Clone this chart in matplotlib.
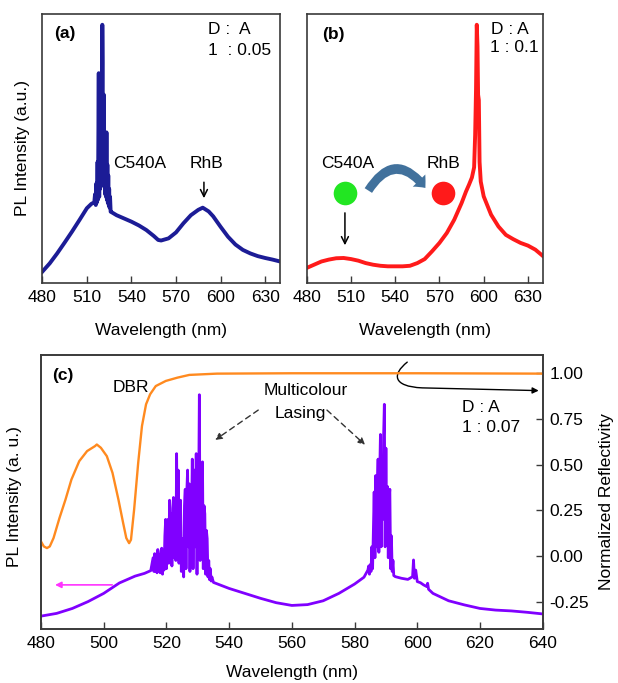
import matplotlib
matplotlib.use('Agg')
import matplotlib.pyplot as plt
from matplotlib.patches import FancyArrowPatch
from matplotlib.path import Path

plt.rcParams['font.family'] = ['Liberation Sans', 'DejaVu Sans']
plt.rcParams['font.size'] = 12.5
plt.rcParams['path.simplify'] = False
FS = 12.5

# ---------------- data ----------------
# Panel (a)  D:A = 1:0.05  (PL intensity, arbitrary units)
wl_a = [480, 485, 490, 495, 500, 505, 510, 513, 515,
        515.5, 516.0, 516.4, 516.8, 517.2, 517.5, 517.8, 518.0, 518.3, 518.6,
        518.9, 519.2, 519.5, 519.8, 520.1, 520.4, 520.6, 520.8, 521.1, 521.4,
        521.7, 522.0, 522.3, 522.6, 522.9, 523.2, 523.5, 523.8, 524.1, 524.4,
        524.7, 525.0, 525.3, 525.6, 526.0,
        527, 530, 535, 540, 545, 550, 555, 558, 560, 565, 570, 575, 580, 585,
        588, 592, 595, 600, 605, 610, 615, 620, 625, 630, 635, 640]
pl_a = [0.042, 0.073, 0.110, 0.150, 0.191, 0.234, 0.278, 0.294, 0.300,
        0.33, 0.29, 0.37, 0.30, 0.45, 0.31, 0.60, 0.78, 0.32, 0.58,
        0.35, 0.68, 0.36, 0.55, 0.40, 0.96, 0.82, 0.38, 0.62, 0.70,
        0.36, 0.52, 0.33, 0.48, 0.32, 0.56, 0.31, 0.44, 0.30, 0.40,
        0.29, 0.35, 0.28, 0.32, 0.265,
        0.262, 0.252, 0.240, 0.228, 0.214, 0.197, 0.175, 0.160, 0.158, 0.166,
        0.188, 0.222, 0.252, 0.272, 0.280, 0.266, 0.248, 0.209, 0.172, 0.143,
        0.123, 0.110, 0.100, 0.093, 0.087, 0.080]

# Panel (b)  D:A = 1:0.1
wl_b = [480, 485, 490, 495, 500, 505, 510, 515, 520, 525, 530, 535, 540, 545,
        550, 555, 560, 565, 570, 575, 580, 585, 588, 590, 592, 593.5, 594.2,
        594.8, 595.3, 595.8, 596.2, 596.7, 597.2, 598, 600, 605, 610, 615, 620,
        625, 630, 635, 640]
pl_b = [0.056, 0.068, 0.080, 0.087, 0.092, 0.093, 0.089, 0.083, 0.074, 0.068,
        0.064, 0.062, 0.062, 0.062, 0.064, 0.074, 0.089, 0.118, 0.149, 0.186,
        0.235, 0.297, 0.340, 0.365, 0.392, 0.43, 0.55, 0.72, 0.96, 0.88, 0.70,
        0.68, 0.45, 0.377, 0.322, 0.254, 0.210, 0.179, 0.163, 0.149, 0.139,
        0.124, 0.101]

# Panel (c)  D:A = 1:0.07, PL (left axis, a.u.)
wl_c = [480, 485, 490, 495, 500, 505, 510, 513, 515,
        515.75, 516.00, 516.25, 516.50, 516.75, 517.00, 517.25, 517.50, 517.75,
        518.00, 518.25, 518.50, 518.75, 519.00, 519.25, 519.50, 519.75, 520.00,
        520.25, 520.50, 520.75, 521.00, 521.25, 521.50, 521.75, 522.00, 522.25,
        522.50, 522.75, 523.00, 523.25, 523.50, 523.75, 524.00, 524.25, 524.50,
        524.75, 525.00, 525.25, 525.50, 525.75, 526.00, 526.25, 526.50, 526.75,
        527.00, 527.25, 527.50, 527.75, 528.00, 528.25, 528.50, 528.75, 529.00,
        529.25, 529.50, 529.75, 530.00, 530.25, 530.50, 530.75, 531.00, 531.25,
        531.50, 531.75, 532.00, 532.25, 532.50, 532.75, 533.00, 533.25, 533.50,
        533.75, 534.00, 534.25, 534.50, 535,
        540, 545, 550, 555, 560, 565, 570, 575, 580, 583,
        584.25, 584.50, 584.75, 585.00, 585.25, 585.50, 585.75, 586.00, 586.25,
        586.50, 586.75, 587.00, 587.25, 587.50, 587.75, 588.00, 588.25, 588.50,
        588.75, 589.00, 589.25, 589.50, 589.75, 590.00, 590.25, 590.50, 590.75,
        591.00, 591.25, 591.50, 591.75, 592.00, 592.25, 592.50,
        593, 595, 597, 598.5, 598.8, 599.1, 599.5, 600, 601, 602, 603, 603.3,
        603.6, 605, 610, 615, 620, 625, 630, 635, 640]
pl_c = [0.047, 0.057, 0.075, 0.100, 0.130, 0.168, 0.193, 0.203, 0.213,
        0.26, 0.21, 0.275, 0.21, 0.25, 0.205, 0.29, 0.21, 0.27,
        0.205, 0.28, 0.295, 0.20, 0.27, 0.215, 0.34, 0.40, 0.22,
        0.36, 0.40, 0.24, 0.47, 0.30, 0.42, 0.23, 0.44, 0.48,
        0.26, 0.40, 0.25, 0.64, 0.30, 0.58, 0.24, 0.45, 0.47,
        0.21, 0.32, 0.33, 0.19, 0.45, 0.51, 0.22, 0.50, 0.58,
        0.30, 0.53, 0.21, 0.50, 0.40, 0.62, 0.22, 0.52, 0.58,
        0.30, 0.64, 0.20, 0.55, 0.45, 0.855, 0.25, 0.60, 0.35,
        0.61, 0.22, 0.45, 0.42, 0.20, 0.36, 0.33, 0.19, 0.25,
        0.18, 0.22, 0.175, 0.19, 0.170,
        0.148, 0.130, 0.112, 0.096, 0.086, 0.089, 0.103, 0.130, 0.164, 0.189,
        0.215, 0.23, 0.20, 0.235, 0.21, 0.30, 0.22, 0.36, 0.50,
        0.26, 0.56, 0.30, 0.50, 0.62, 0.28, 0.55, 0.71, 0.30,
        0.60, 0.40, 0.70, 0.82, 0.30, 0.66, 0.35, 0.52, 0.26,
        0.47, 0.51, 0.22, 0.34, 0.21, 0.25, 0.195,
        0.191, 0.185, 0.181, 0.191, 0.252, 0.185, 0.215, 0.173, 0.169, 0.161,
        0.155, 0.167, 0.145, 0.130, 0.103, 0.088, 0.075, 0.069, 0.066, 0.061,
        0.055]

# Panel (c) DBR normalized reflectivity (right axis)
wl_dbr = [480.0, 480.9, 481.9, 482.8, 484.0, 485.9, 487.8, 489.7, 492.2, 494.7,
          497.2, 497.8, 499.1, 501.0, 502.8, 504.7, 506.2, 507.2, 508.1, 508.7,
          509.7, 511.0, 512.2, 513.5, 514.8, 516.6, 519.8, 523.5, 527.3, 536.1,
          560, 600, 640]
refl = [0.079, 0.052, 0.043, 0.052, 0.098, 0.208, 0.308, 0.418, 0.519, 0.574,
        0.601, 0.610, 0.592, 0.546, 0.455, 0.308, 0.180, 0.098, 0.070, 0.089,
        0.254, 0.510, 0.711, 0.830, 0.885, 0.930, 0.958, 0.976, 0.991, 0.998,
        1.000, 1.000, 0.998]

ticks_ab = [480, 510, 540, 570, 600, 630]
ticks_c = [480, 500, 520, 540, 560, 580, 600, 620, 640]
ticks_refl = [1.00, 0.75, 0.50, 0.25, 0.00, -0.25]

# ---------------- figure ----------------
W, H = 618, 683
fig = plt.figure(figsize=(W / 100, H / 100), dpi=100)

def px_axes(x0, x1, y0, y1):
    return fig.add_axes([x0 / W, 1 - y1 / H, (x1 - x0) / W, (y1 - y0) / H])

ax_a = px_axes(42.3, 280, 14, 283)
ax_b = px_axes(306.7, 542.7, 14, 283)
ax_c = px_axes(41, 542.7, 355, 629)

spine_col = '#3a3a3a'
for ax in (ax_a, ax_b, ax_c):
    for s in ax.spines.values():
        s.set_color(spine_col)
        s.set_linewidth(1.2)
    ax.tick_params(axis='x', direction='in', length=5, width=1,
                   pad=5, labelsize=FS, color=spine_col)
    ax.set_yticks([])
    ax.set_ylim(0, 1)

# Panel (a)
ax_a.plot(wl_a, pl_a, color='#1c1c96', lw=2.8)
ax_a.set_xlim(480, 640)
ax_a.set_xticks(ticks_ab)
ax_a.set_xlabel('Wavelength (nm)', fontsize=FS, va='center')
ax_a.xaxis.set_label_coords(0.5, -0.175)
ax_a.set_ylabel('PL Intensity (a.u.)', fontsize=FS, va='center')
ax_a.yaxis.set_label_coords(-0.083, 0.5)
ax_a.text(0.095, 0.929, '(a)', transform=ax_a.transAxes, fontsize=FS,
          fontweight='bold', ha='center', va='center')
ax_a.text(0.697, 0.941, 'D :  A', transform=ax_a.transAxes, fontsize=FS,
          ha='left', va='center')
ax_a.text(0.697, 0.866, '1  : 0.05', transform=ax_a.transAxes, fontsize=FS,
          ha='left', va='center')
ax_a.text(0.411, 0.446, 'C540A', transform=ax_a.transAxes, fontsize=FS,
          ha='center', va='center')
ax_a.text(0.689, 0.446, 'RhB', transform=ax_a.transAxes, fontsize=FS,
          ha='center', va='center')
ax_a.annotate('', xy=(0.680, 0.305), xytext=(0.680, 0.385),
              xycoords='axes fraction', textcoords='axes fraction',
              arrowprops=dict(arrowstyle='->', color='black', lw=1.1))

# Panel (b)
ax_b.plot(wl_b, pl_b, color='#ff1a1a', lw=2.8)
ax_b.set_xlim(480, 640)
ax_b.set_xticks(ticks_ab)
ax_b.set_xlabel('Wavelength (nm)', fontsize=FS, va='center')
ax_b.xaxis.set_label_coords(0.5, -0.175)
ax_b.text(0.111, 0.922, '(b)', transform=ax_b.transAxes, fontsize=FS,
          fontweight='bold', ha='center', va='center')
ax_b.text(0.780, 0.941, 'D : A', transform=ax_b.transAxes, fontsize=FS,
          ha='left', va='center')
ax_b.text(0.775, 0.874, '1 : 0.1', transform=ax_b.transAxes, fontsize=FS,
          ha='left', va='center')
ax_b.text(0.175, 0.446, 'C540A', transform=ax_b.transAxes, fontsize=FS,
          ha='center', va='center')
ax_b.text(0.578, 0.446, 'RhB', transform=ax_b.transAxes, fontsize=FS,
          ha='center', va='center')
ax_b.plot([0.162], [0.335], 'o', ms=17, color='#22e622', mec='none',
          transform=ax_b.transAxes)
ax_b.plot([0.578], [0.335], 'o', ms=17, color='#ff1a1a', mec='none',
          transform=ax_b.transAxes)
curved = FancyArrowPatch((0.255, 0.335), (0.510, 0.345),
                         transform=ax_b.transAxes,
                         connectionstyle='arc3,rad=-0.75',
                         arrowstyle='simple,head_length=0.5,head_width=0.9,tail_width=0.45',
                         mutation_scale=14, color='#41719c', lw=0)
ax_b.add_patch(curved)
ax_b.annotate('', xy=(0.162, 0.130), xytext=(0.162, 0.271),
              xycoords='axes fraction', textcoords='axes fraction',
              arrowprops=dict(arrowstyle='->', color='black', lw=1.1))

# Panel (c)
ax_c.plot(wl_c, pl_c, color='#8000ff', lw=2.0)
ax_c.set_xlim(480, 640)
ax_c.set_xticks(ticks_c)
ax_c.set_xlabel('Wavelength (nm)', fontsize=FS, va='center')
ax_c.xaxis.set_label_coords(0.5, -0.157)
ax_c.set_ylabel('PL Intensity (a. u.)', fontsize=FS, va='center')
ax_c.yaxis.set_label_coords(-0.052, 0.482)

ax_r = ax_c.twinx()
ax_r.plot(wl_dbr, refl, color='#ff8a1f', lw=1.7)
ax_r.set_ylim(-0.40, 1.10)
ax_r.set_xlim(480, 640)
ax_r.set_yticks(ticks_refl)
ax_r.set_yticklabels(['%.2f' % v for v in ticks_refl])
ax_r.tick_params(axis='y', direction='in', length=5, width=1, pad=5,
                 labelsize=FS, color=spine_col)
for s in ax_r.spines.values():
    s.set_color(spine_col)
    s.set_linewidth(1.2)
ax_r.set_ylabel('Normalized Reflectivity', fontsize=FS, va='center',
                rotation=90)
ax_r.yaxis.set_label_coords(1.128, 0.464)

ax_r.text(0.044, 0.927, '(c)', transform=ax_c.transAxes, fontsize=FS,
          fontweight='bold', ha='center', va='center')
ax_r.text(0.179, 0.883, 'DBR', transform=ax_c.transAxes, fontsize=FS,
          ha='center', va='center')
ax_r.text(0.528, 0.869, 'Multicolour', transform=ax_c.transAxes, fontsize=FS,
          ha='center', va='center')
ax_r.text(0.516, 0.788, 'Lasing', transform=ax_c.transAxes, fontsize=FS,
          ha='center', va='center')
ax_r.text(0.839, 0.807, 'D : A', transform=ax_c.transAxes, fontsize=FS,
          ha='left', va='center')
ax_r.text(0.839, 0.737, '1 : 0.07', transform=ax_c.transAxes, fontsize=FS,
          ha='left', va='center')
for start, end in (((0.433, 0.799), (0.347, 0.690)),
                   ((0.570, 0.799), (0.646, 0.672))):
    ax_r.annotate('', xy=end, xytext=start, xycoords=ax_c.transAxes,
                  textcoords=ax_c.transAxes,
                  arrowprops=dict(arrowstyle='-|>', color='#333333', lw=1.0,
                                  linestyle=(0, (4, 3)), mutation_scale=10,
                                  shrinkA=0, shrinkB=0))
# hook arrow pointing to right axis
hook = Path([(0.730, 0.974), (0.700, 0.930), (0.700, 0.885), (0.760, 0.880),
             (0.992, 0.870)],
            [Path.MOVETO, Path.CURVE4, Path.CURVE4, Path.CURVE4, Path.LINETO])
ax_r.add_patch(FancyArrowPatch(path=hook, transform=ax_c.transAxes,
                               arrowstyle='-|>', mutation_scale=9,
                               color='black', lw=1.0))
# magenta arrow pointing to left axis
ax_r.annotate('', xy=(0.028, 0.161), xytext=(0.142, 0.161),
              xycoords=ax_c.transAxes, textcoords=ax_c.transAxes,
              arrowprops=dict(arrowstyle='-|>', color='#ff33ff', lw=1.2,
                              mutation_scale=9, shrinkA=0, shrinkB=0))

fig.savefig('out.png', dpi=100)
